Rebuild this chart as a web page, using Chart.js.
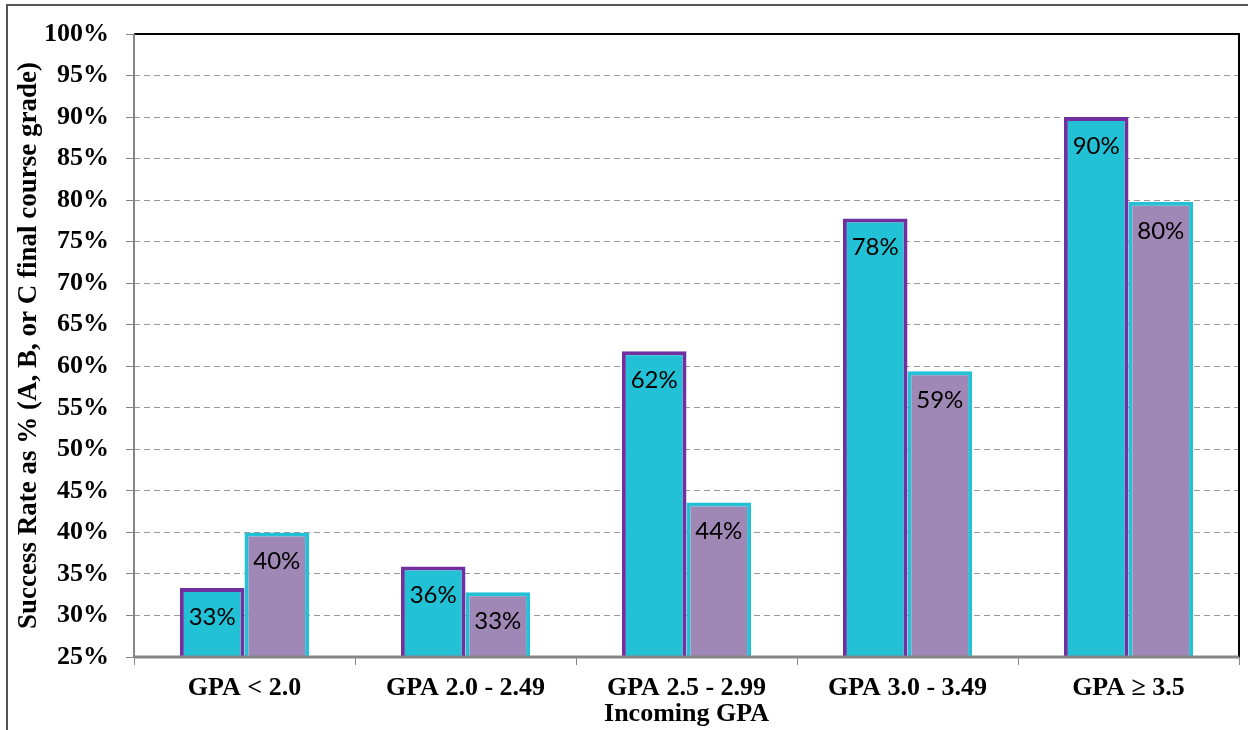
<!DOCTYPE html>
<html>
<head>
<meta charset="utf-8">
<script src="https://cdn.jsdelivr.net/npm/chart.js@4.4.1/dist/chart.umd.min.js"></script>
<style>
  html, body { margin: 0; padding: 0; background: #ffffff; }
  #wrap { width: 1253px; height: 730px; position: relative; }
</style>
</head>
<body>
<div id="wrap"><canvas id="chart" width="1253" height="730"></canvas></div>
<script>
// Incoming GPA bands
const categories = ['GPA < 2.0', 'GPA 2.0 - 2.49', 'GPA 2.5 - 2.99', 'GPA 3.0 - 3.49', 'GPA \u2265 3.5'];
// Success rates (%) for the two student groups
const seriesA = [33.3, 35.9, 61.8, 77.8, 90.0];
const seriesB = [40.0, 32.8, 43.6, 59.4, 79.8];
// Value axis ticks
const yMin = 25;
const yMax = 100;
const yStep = 5;

const serif = '"Liberation Serif", "Times New Roman", serif';
const CYAN = '#22C1D6';
const PURPLE = '#A088B6';
const DARK_PURPLE = '#7030A0';

// Frame lines, axis lines and the plot border
const framePlugin = {
  id: 'frame',
  afterDatasetsDraw(chart) {
    const { ctx, chartArea: a } = chart;
    ctx.save();
    ctx.lineCap = 'butt';
    // outer frame (top and left)
    ctx.strokeStyle = '#555555';
    ctx.lineWidth = 2;
    ctx.beginPath();
    ctx.moveTo(7, 730);
    ctx.lineTo(7, 5);
    ctx.lineTo(1248, 5);
    ctx.stroke();
    // plot border top + right
    ctx.strokeStyle = '#000000';
    ctx.lineWidth = 2;
    ctx.beginPath();
    ctx.moveTo(a.left, a.top);
    ctx.lineTo(a.right, a.top);
    ctx.lineTo(a.right, a.bottom);
    ctx.stroke();
    // axis lines (gray)
    ctx.strokeStyle = '#868686';
    ctx.lineWidth = 3;
    ctx.beginPath();
    ctx.moveTo(a.left, a.bottom);
    ctx.lineTo(a.right, a.bottom);
    ctx.stroke();
    ctx.lineWidth = 2;
    ctx.beginPath();
    ctx.moveTo(a.left, a.top);
    ctx.lineTo(a.left, a.bottom + 1);
    ctx.stroke();
    ctx.restore();
  }
};

// Value labels inside the top of each bar
const valueLabels = {
  id: 'valueLabels',
  afterDatasetsDraw(chart) {
    const { ctx } = chart;
    ctx.save();
    ctx.fillStyle = '#000000';
    ctx.font = '24px Lato, "Open Sans", sans-serif';
    ctx.textAlign = 'center';
    ctx.textBaseline = 'middle';
    chart.data.datasets.forEach((ds, di) => {
      const meta = chart.getDatasetMeta(di);
      meta.data.forEach((el, i) => {
        ctx.fillText(Math.round(ds.data[i]) + '%', el.x, el.y + 29);
      });
    });
    ctx.restore();
  }
};

new Chart(document.getElementById('chart'), {
  type: 'bar',
  data: {
    labels: categories,
    datasets: [
      {
        label: 'Series A',
        data: seriesA,
        backgroundColor: CYAN,
        borderColor: DARK_PURPLE,
        borderWidth: 4,
        borderSkipped: false
      },
      {
        label: 'Series B',
        data: seriesB,
        backgroundColor: PURPLE,
        borderColor: CYAN,
        borderWidth: 4,
        borderSkipped: false
      }
    ]
  },
  options: {
    responsive: false,
    animation: false,
    events: [],
    layout: { padding: { left: 8, right: 14, top: 34, bottom: 0 } },
    datasets: { bar: { barPercentage: 1.0, categoryPercentage: 0.585 } },
    plugins: {
      legend: { display: false },
      title: { display: false },
      tooltip: { enabled: false }
    },
    scales: {
      x: {
        offset: true,
        afterFit(scale) { scale.height = 73; },
        grid: {
          offset: true,
          drawOnChartArea: false,
          drawTicks: true,
          tickLength: 8,
          tickColor: '#868686',
          lineWidth: 1
        },
        border: { display: false },
        ticks: {
          color: '#000000',
          font: { family: serif, size: 26, weight: 'bold' },
          padding: 8,
          maxRotation: 0,
          autoSkip: false
        },
        title: {
          display: true,
          text: 'Incoming GPA',
          color: '#000000',
          font: { family: serif, size: 26, weight: 'bold' },
          padding: { top: -12, bottom: 0 }
        }
      },
      y: {
        min: yMin,
        max: yMax,
        afterFit(scale) { scale.width = 126; },
        grid: {
          drawOnChartArea: true,
          drawTicks: true,
          tickLength: 8,
          color: '#9a9a9a',
          tickColor: '#868686',
          lineWidth: 1
        },
        border: { display: false, dash: [6, 4] },
        ticks: {
          stepSize: yStep,
          color: '#000000',
          font: { family: serif, size: 26, weight: 'bold' },
          padding: 17,
          callback: (v) => v + '%'
        },
        title: {
          display: true,
          text: 'Success Rate as % (A, B, or C final course grade)',
          color: '#000000',
          font: { family: serif, size: 27, weight: 'bold' },
          padding: { top: 5, bottom: 0 }
        }
      }
    }
  },
  plugins: [framePlugin, valueLabels]
});
</script>
</body>
</html>
